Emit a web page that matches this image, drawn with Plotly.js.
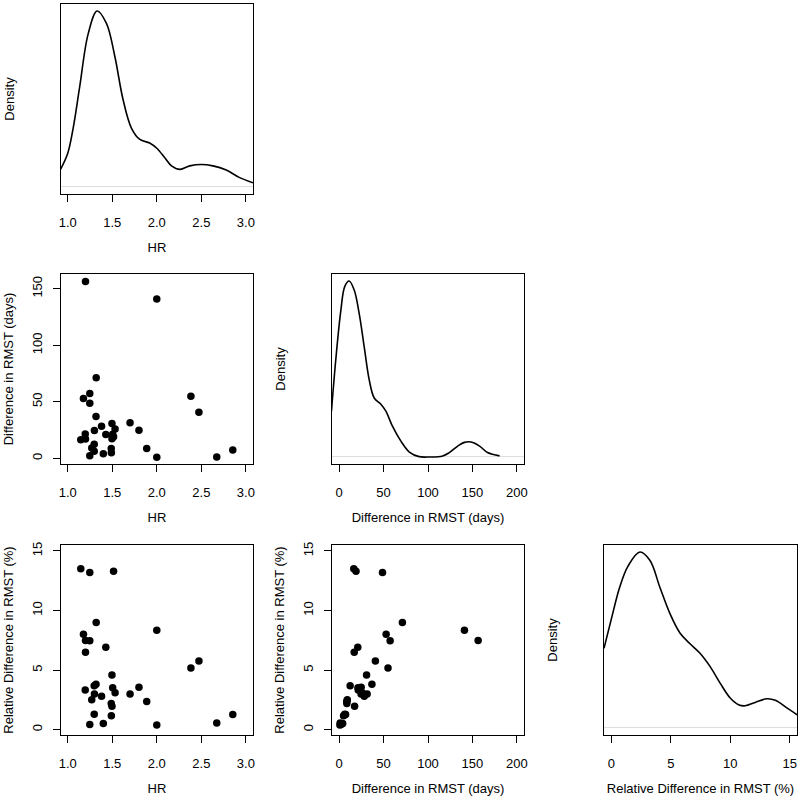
<!DOCTYPE html>
<html>
<head>
<meta charset="utf-8">
<script src="https://cdn.plot.ly/plotly-3.0.1.min.js"></script>
<style>
  html, body { margin: 0; padding: 0; background: #fff; }
  #chart { width: 800px; height: 800px; }
</style>
</head>
<body>
<div id="chart"></div>
<script>
// one row per study: hazard ratio, RMST difference (days), relative RMST difference (%)
var hr = [1.147, 1.248, 1.515, 1.32, 1.177, 1.20, 1.248, 1.20, 1.428, 2.00, 2.383, 2.473,
	1.497, 1.298, 1.318, 1.197, 1.505, 1.532, 1.80, 1.30, 1.38, 1.70, 1.27, 1.489,
	1.497, 1.887, 1.298, 1.49, 1.248, 1.40, 2.00, 2.673, 2.853];
var rmstDiff = [16.5, 48.8, 19.0, 71.2, 52.9, 156.4, 57.4, 17.0, 21.0, 141.0, 55.0, 40.8,
	30.9, 12.4, 36.9, 21.5, 21.2, 26.0, 24.8, 24.7, 28.3, 31.5, 9.2, 8.7,
	17.4, 8.6, 6.3, 5.0, 2.2, 4.0, 0.9, 1.2, 7.3];
var relDiff = [13.5, 13.2, 13.3, 9.0, 8.0, 7.49, 7.47, 6.5, 6.92, 8.34, 5.17, 5.77,
	4.59, 3.68, 3.80, 3.32, 3.52, 3.10, 3.56, 3.0, 2.80, 3.0, 2.50, 2.20,
	1.96, 2.36, 1.30, 1.16, 0.44, 0.52, 0.38, 0.55, 1.28];

// density curves (height relative to the peak)
var hrDensX = [0.92, 1.0, 1.06, 1.135, 1.23, 1.33, 1.435, 1.53, 1.62, 1.715, 1.81, 1.92,
	2.0, 2.09, 2.165, 2.26, 2.37, 2.5, 2.63, 2.78, 2.93, 3.08];
var hrDensY = [0.10, 0.19, 0.33, 0.57, 0.87, 1.0, 0.93, 0.74, 0.50, 0.335, 0.27, 0.25,
	0.22, 0.166, 0.12, 0.10, 0.12, 0.128, 0.12, 0.096, 0.053, 0.024];
var diffDensX = [-8.6, -3.8, 1.9, 6.4, 11.3, 16.9, 22.6, 28.2, 33.8, 39.5, 47, 52.6,
	60, 69.5, 79, 90, 101.5, 116.5, 124, 133.5, 141, 148.5, 158, 167, 180.5];
var diffDensY = [0.26, 0.55, 0.83, 0.97, 1.0, 0.95, 0.815, 0.627, 0.44, 0.335, 0.30, 0.26,
	0.175, 0.09, 0.028, 0.002, 0.0, 0.006, 0.025, 0.062, 0.083, 0.085, 0.062, 0.025, 0.006];
var relDensX = [-0.62, 0, 0.7, 1.4, 2.4, 3.24, 4.08, 4.93, 5.77, 6.6, 7.46, 8.3,
	9.15, 10.0, 10.7, 11.26, 12.1, 13.1, 13.8, 14.8, 15.62];
var relDensY = [0.453, 0.62, 0.80, 0.92, 1.0, 0.953, 0.80, 0.65, 0.54, 0.48, 0.425, 0.35,
	0.255, 0.17, 0.132, 0.126, 0.145, 0.166, 0.157, 0.113, 0.075];

var FONT = 'Liberation Sans, Arial, sans-serif';
var titleFont = { family: FONT, size: 13, color: '#000' };

var colDom = [[0.07625, 0.31625], [0.415, 0.655], [0.755, 0.99625]];
var rowDom = [[0.7575, 0.995], [0.42, 0.6575], [0.08125, 0.31875]];

var hrRange = [0.925, 3.08],
	diffRange = [-8, 208],
	relRange = [-0.45, 15.5],
	densRange = [-0.04, 1.04];

function xAxis(range, col, anchor, dtick, fmt, title) {
	return {
		range: range, domain: colDom[col], anchor: anchor,
		showline: true, mirror: true, linecolor: '#000', linewidth: 1,
		ticks: 'outside', ticklen: 7, tickcolor: '#000', tickwidth: 1,
		tick0: 0, dtick: dtick, tickformat: fmt,
		ticklabelstandoff: 9,
		tickfont: titleFont,
		showgrid: false, zeroline: false,
		title: { text: title, font: titleFont, standoff: 14 }
	};
}

function yAxis(range, row, anchor, dtick, title, dens) {
	var ax = {
		range: range, domain: rowDom[row], anchor: anchor,
		showline: true, mirror: true, linecolor: '#000', linewidth: 1,
		showgrid: false,
		title: { text: title, font: titleFont, standoff: 13 }
	};
	if (dens) {
		ax.ticks = '';
		ax.showticklabels = false;
		ax.zeroline = true;
		ax.zerolinecolor = '#dedede';
		ax.zerolinewidth = 1;
		ax.title.standoff = 42;
	} else {
		ax.ticks = 'outside';
		ax.ticklen = 7;
		ax.tickcolor = '#000';
		ax.tick0 = 0;
		ax.dtick = dtick;
		ax.tickangle = -90;
		ax.ticklabelstandoff = 6;
		ax.tickfont = titleFont;
		ax.zeroline = false;
	}
	return ax;
}

function densTrace(x, y, n) {
	return {
		x: x, y: y, xaxis: 'x' + n, yaxis: 'y' + n,
		type: 'scatter', mode: 'lines',
		line: { color: '#000', width: 1.6, shape: 'spline', smoothing: 1 },
		hoverinfo: 'skip'
	};
}

function pointTrace(x, y, n) {
	return {
		x: x, y: y, xaxis: 'x' + n, yaxis: 'y' + n,
		type: 'scatter', mode: 'markers',
		marker: { color: '#000', size: 7.5 }
	};
}

var data = [
	densTrace(hrDensX, hrDensY, ''),
	pointTrace(hr, rmstDiff, 2),
	densTrace(diffDensX, diffDensY, 3),
	pointTrace(hr, relDiff, 4),
	pointTrace(rmstDiff, relDiff, 5),
	densTrace(relDensX, relDensY, 6)
];

var layout = {
	width: 800, height: 800,
	margin: { l: 0, r: 0, t: 0, b: 0 },
	paper_bgcolor: '#fff', plot_bgcolor: '#fff',
	showlegend: false,
	font: titleFont,
	xaxis: xAxis(hrRange, 0, 'y', 0.5, '.1f', 'HR'),
	yaxis: yAxis(densRange, 0, 'x', null, 'Density', true),
	xaxis2: xAxis(hrRange, 0, 'y2', 0.5, '.1f', 'HR'),
	yaxis2: yAxis([-5, 163], 1, 'x2', 50, 'Difference in RMST (days)', false),
	xaxis3: xAxis(diffRange, 1, 'y3', 50, '', 'Difference in RMST (days)'),
	yaxis3: yAxis(densRange, 1, 'x3', null, 'Density', true),
	xaxis4: xAxis(hrRange, 0, 'y4', 0.5, '.1f', 'HR'),
	yaxis4: yAxis(relRange, 2, 'x4', 5, 'Relative Difference in RMST (%)', false),
	xaxis5: xAxis(diffRange, 1, 'y5', 50, '', 'Difference in RMST (days)'),
	yaxis5: yAxis(relRange, 2, 'x5', 5, 'Relative Difference in RMST (%)', false),
	xaxis6: xAxis([-0.62, 15.62], 2, 'y6', 5, '', 'Relative Difference in RMST (%)'),
	yaxis6: yAxis(densRange, 2, 'x6', null, 'Density', true)
};

Plotly.newPlot('chart', data, layout, { displayModeBar: false, staticPlot: true });
</script>
</body>
</html>
